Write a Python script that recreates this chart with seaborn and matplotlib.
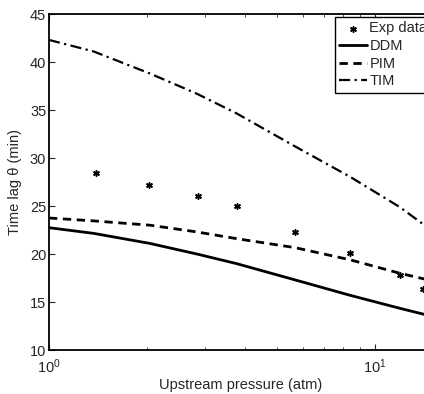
import matplotlib
matplotlib.use("Agg")
import matplotlib.pyplot as plt
import numpy as np
import pandas as pd
import seaborn as sns

# dane
p_exp = [1.39, 2.03, 2.86, 3.76, 5.69, 8.38, 11.9, 14.0]
t_exp = [28.4, 27.2, 26.0, 25.0, 22.3, 20.1, 17.8, 16.4]

p_model = [1.0, 1.37, 2.04, 2.84, 3.76, 5.69, 8.38, 11.9, 15.0]
t_ddm = [22.74, 22.15, 21.1, 20.0, 19.0, 17.3, 15.7, 14.35, 13.5]
t_pim = [23.75, 23.45, 23.0, 22.3, 21.6, 20.66, 19.4, 18.0, 17.2]
t_tim = [42.3, 41.1, 38.8, 36.7, 34.65, 31.2, 28.05, 24.9, 22.4]

sns.set_style("ticks")
plt.rcParams['font.family'] = ['Liberation Sans', 'DejaVu Sans']
plt.rcParams['mathtext.fontset'] = 'custom'
plt.rcParams['mathtext.rm'] = 'Liberation Sans'
plt.rcParams['mathtext.it'] = 'Liberation Sans'
plt.rcParams['mathtext.default'] = 'regular'

df = pd.DataFrame({'p': p_model, 'DDM': t_ddm, 'PIM': t_pim, 'TIM': t_tim})
dfe = pd.DataFrame({'p': p_exp, 't': t_exp})

fig = plt.figure(figsize=(4.24, 3.94), dpi=100)
ax = fig.add_axes([49/424, 44/394, 383.4/424, 336/394])

ax.set_xscale('log')
sns.scatterplot(data=dfe, x='p', y='t', ax=ax, marker=(6, 2, 0), s=16,
                color='black', linewidth=1.1, label='Exp data', zorder=3)
sns.lineplot(data=df, x='p', y='DDM', ax=ax, color='black', lw=2, label='DDM')
sns.lineplot(data=df, x='p', y='PIM', ax=ax, color='black', lw=2,
             label='PIM').lines[-1].set_dashes([3, 2])
ln = sns.lineplot(data=df, x='p', y='TIM', ax=ax, color='black', lw=1.6, label='TIM').lines[-1]
ln.set_dashes([5, 2, 1, 2])

ax.set_xlim(1, 15)
ax.set_ylim(10, 45)
ax.set_yticks(np.arange(10, 46, 5))
ax.set_xlabel('Upstream pressure (atm)', fontsize=10.5, labelpad=2)
ax.set_ylabel('Time lag θ (min)', fontsize=10.5, labelpad=6)
ax.tick_params(which='both', direction='in', top=True, right=True, labelsize=10.5)
ax.tick_params(axis='x', which='both', pad=5)
ax.tick_params(axis='y', which='both', pad=2)
ax.tick_params(which='major', length=4)
ax.tick_params(which='minor', length=2.5)
for s in ax.spines.values():
    s.set_linewidth(1.3)
    s.set_color('black')

leg = ax.legend(loc='upper left', bbox_to_anchor=(335/424, 1 - 17/394),
                bbox_transform=fig.transFigure, fontsize=10.5, frameon=True,
                fancybox=False, framealpha=1, edgecolor='black', borderpad=0.3,
                labelspacing=0.25, handlelength=1.9, handletextpad=0.15,
                borderaxespad=0)
leg.get_frame().set_linewidth(1.0)

fig.savefig('out.png', dpi=100)
